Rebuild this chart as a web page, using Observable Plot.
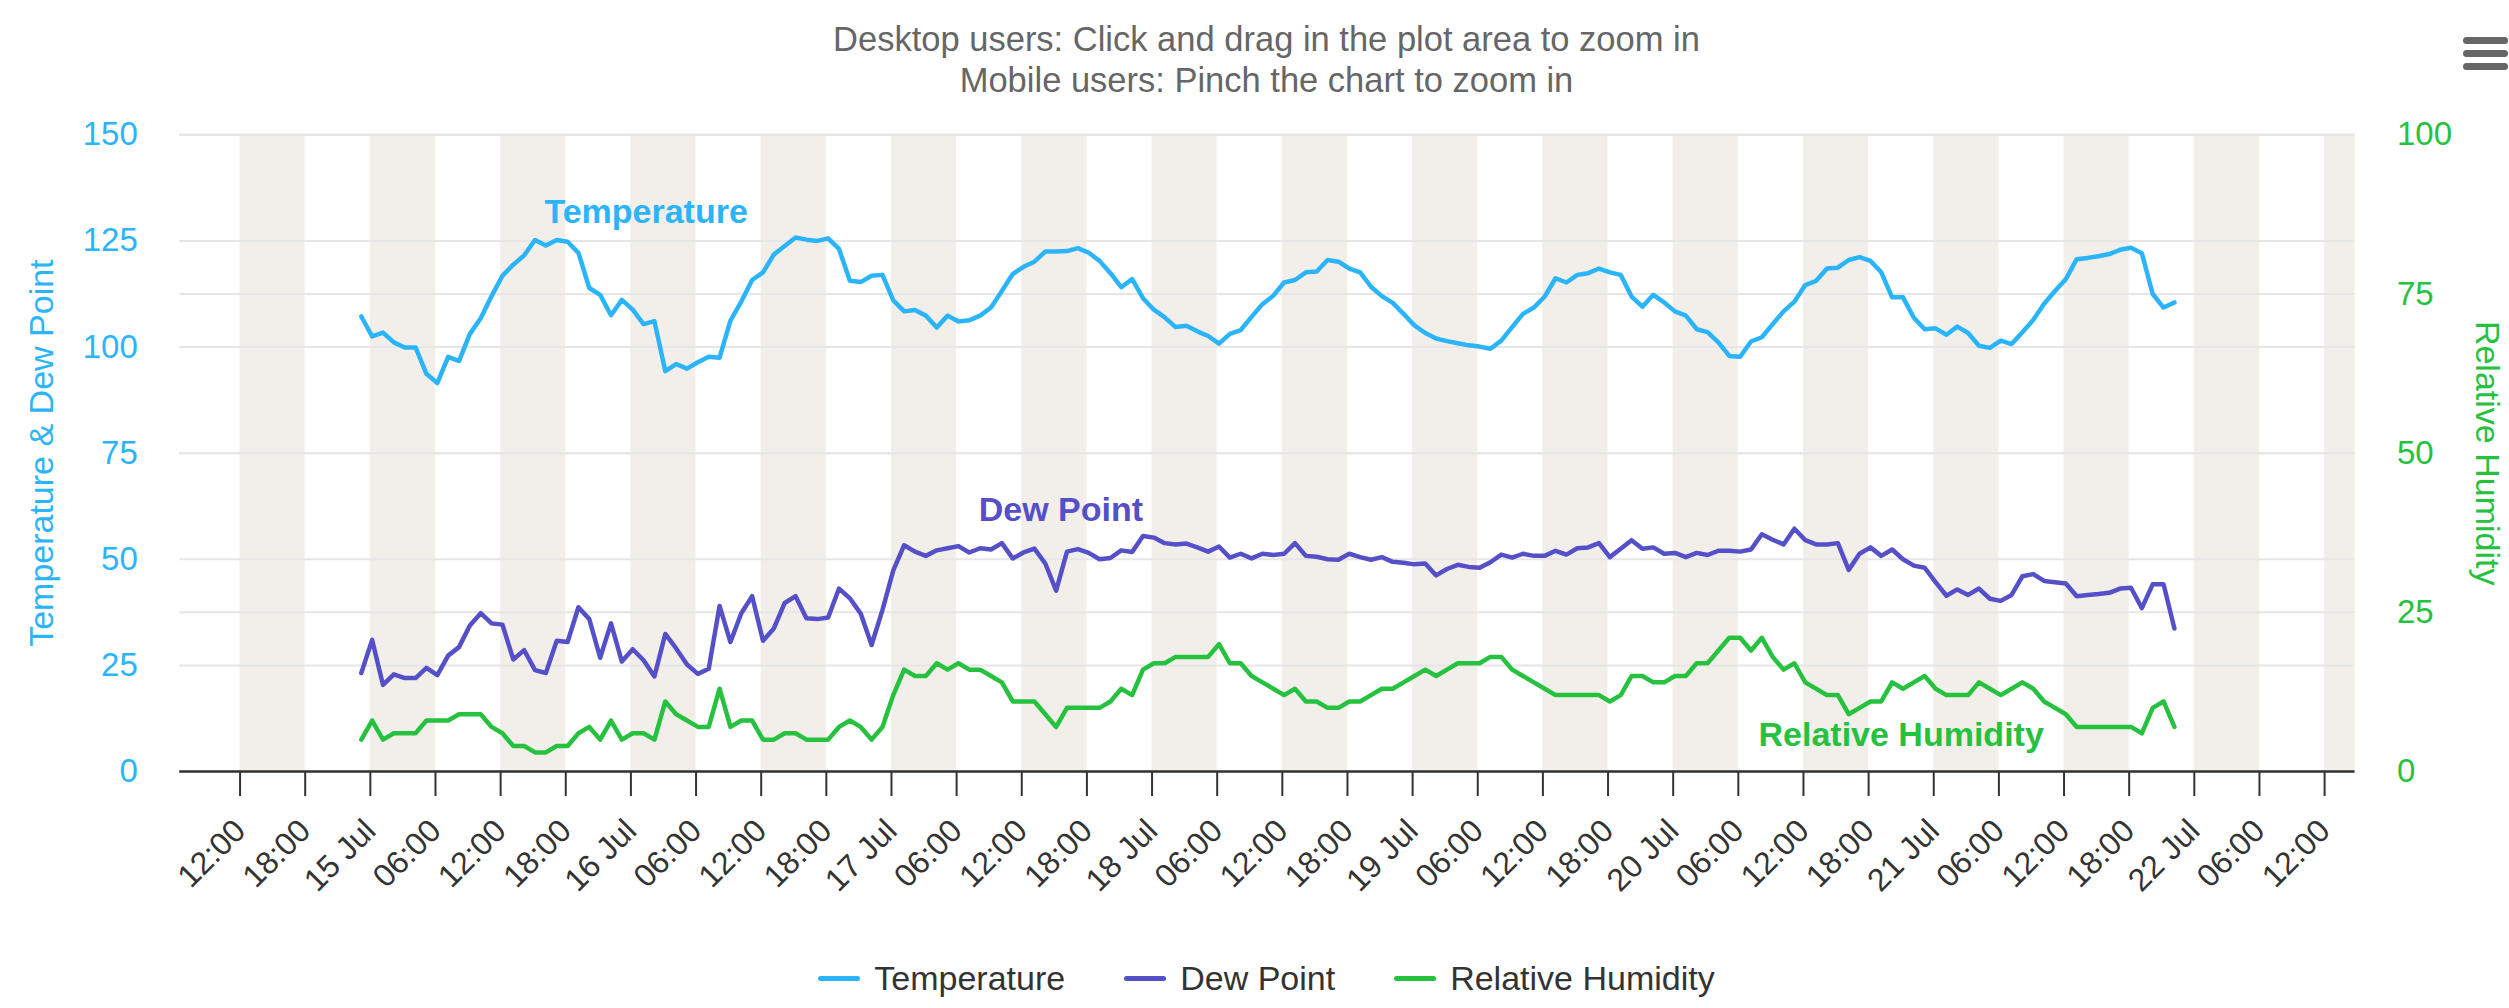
<!DOCTYPE html>
<html>
<head>
<meta charset="utf-8">
<script src="https://cdn.jsdelivr.net/npm/d3@7"></script>
<script src="https://cdn.jsdelivr.net/npm/@observablehq/plot@0.6"></script>
<style>
  html, body { margin: 0; padding: 0; background: #fff; }
  body { width: 2509px; height: 1008px; position: relative; overflow: hidden;
         font-family: "Liberation Sans", Arial, Helvetica, sans-serif; }
  #subtitle { position: absolute; left: 179px; width: 2175px; top: 19px; text-align: center;
              color: #666; font-size: 34.5px; line-height: 40.6px; }
  #chart { position: absolute; left: 0; top: 110px; }
  #legend { position: absolute; left: 179px; width: 2175px; top: 955px; height: 46px;
            display: flex; justify-content: center; align-items: center; gap: 59px;
            color: #333; font-size: 34px; }
  .item { display: flex; align-items: center; }
  .sym { width: 42px; height: 5px; border-radius: 3px; margin-right: 14px; }
  #menu { position: absolute; left: 2463px; top: 37px; width: 45px; }
  #menu div { height: 7px; border-radius: 4px; background: #666; margin-bottom: 6px; }
</style>
</head>
<body>
<div id="subtitle">Desktop users: Click and drag in the plot area to zoom in<br>Mobile users: Pinch the chart to zoom in</div>
<div id="menu"><div></div><div></div><div></div></div>
<div id="chart"></div>
<div id="legend"></div>
<script>
// ---------- data (hourly readings) ----------
const seriesStart = "2023-07-14T23:10:00Z";

const temperature = [
  107.2, 102.5, 103.4, 101.1, 99.9, 99.9, 93.7, 91.5, 97.7, 96.7,
  103.1, 106.8, 112.0, 116.8, 119.4, 121.6, 125.2, 123.9, 125.2, 124.8,
  122.2, 113.9, 112.3, 107.5, 111.1, 108.8, 105.4, 106.1, 94.3, 96.0,
  94.9, 96.4, 97.7, 97.5, 106.2, 110.7, 115.8, 117.6, 121.8, 123.8,
  125.8, 125.3, 125.0, 125.6, 123.1, 115.6, 115.3, 116.8, 117.0, 111.0,
  108.4, 108.7, 107.4, 104.6, 107.4, 106.0, 106.3, 107.4, 109.3, 113.2,
  117.2, 118.9, 120.1, 122.5, 122.5, 122.6, 123.3, 122.2, 120.3, 117.4,
  114.1, 116.0, 111.5, 108.8, 107.0, 104.7, 105.0, 103.7, 102.6, 100.8,
  103.1, 104.0, 107.1, 110.1, 112.1, 115.2, 115.8, 117.6, 117.8, 120.5,
  120.1, 118.5, 117.6, 114.2, 112.0, 110.4, 107.8, 105.1, 103.3, 102.0,
  101.4, 100.9, 100.4, 100.1, 99.6, 101.5, 104.7, 107.8, 109.3, 111.9,
  116.2, 115.2, 117.0, 117.4, 118.5, 117.6, 117.0, 111.9, 109.5, 112.3,
  110.5, 108.4, 107.4, 104.2, 103.5, 101.1, 97.9, 97.7, 101.3, 102.3,
  105.4, 108.4, 110.7, 114.6, 115.6, 118.5, 118.7, 120.5, 121.2, 120.3,
  117.6, 111.7, 111.7, 106.9, 104.2, 104.4, 102.9, 104.8, 103.3, 100.3,
  99.8, 101.5, 100.7, 103.5, 106.4, 110.2, 113.2, 116.0, 120.7, 121.0,
  121.4, 121.9, 122.9, 123.4, 122.1, 112.5, 109.3, 110.5
];

const dewPoint = [
  23.2, 31.0, 20.4, 22.9, 22.0, 22.0, 24.4, 22.7, 27.3, 29.3,
  34.4, 37.3, 34.9, 34.6, 26.4, 28.6, 23.9, 23.2, 30.8, 30.5,
  38.7, 35.9, 26.8, 34.9, 25.9, 28.8, 26.2, 22.4, 32.4, 29.0,
  25.2, 23.0, 24.2, 39.0, 30.5, 37.3, 41.3, 30.8, 33.7, 39.7,
  41.3, 36.1, 35.9, 36.3, 43.1, 40.8, 37.2, 29.8, 38.0, 47.4,
  53.3, 51.8, 50.8, 52.1, 52.6, 53.1, 51.6, 52.6, 52.3, 53.8,
  50.2, 51.6, 52.5, 49.0, 42.6, 51.8, 52.4, 51.5, 50.0, 50.3,
  52.1, 51.7, 55.5, 55.1, 53.8, 53.5, 53.7, 52.8, 51.8, 53.0,
  50.4, 51.3, 50.2, 51.3, 51.0, 51.3, 53.8, 50.8, 50.6, 50.0,
  49.9, 51.3, 50.5, 49.9, 50.5, 49.4, 49.2, 48.8, 49.0, 46.2,
  47.7, 48.7, 48.2, 48.0, 49.3, 51.1, 50.4, 51.3, 50.8, 50.8,
  52.0, 51.1, 52.6, 52.8, 53.8, 50.5, 52.5, 54.5, 52.5, 52.8,
  51.3, 51.5, 50.5, 51.5, 51.0, 52.0, 52.0, 51.8, 52.3, 55.9,
  54.6, 53.5, 57.2, 54.5, 53.5, 53.5, 53.8, 47.5, 51.3, 52.8,
  50.8, 52.3, 50.0, 48.5, 48.0, 44.6, 41.4, 42.9, 41.6, 43.1,
  40.7, 40.2, 41.6, 46.0, 46.5, 44.9, 44.6, 44.3, 41.3, 41.6,
  41.8, 42.1, 43.1, 43.3, 38.5, 44.1, 44.1, 33.7
];

const humidity = [
  5, 8, 5, 6, 6, 6, 8, 8, 8, 9,
  9, 9, 7, 6, 4, 4, 3, 3, 4, 4,
  6, 7, 5, 8, 5, 6, 6, 5, 11, 9,
  8, 7, 7, 13, 7, 8, 8, 5, 5, 6,
  6, 5, 5, 5, 7, 8, 7, 5, 7, 12,
  16, 15, 15, 17, 16, 17, 16, 16, 15, 14,
  11, 11, 11, 9, 7, 10, 10, 10, 10, 11,
  13, 12, 16, 17, 17, 18, 18, 18, 18, 20,
  17, 17, 15, 14, 13, 12, 13, 11, 11, 10,
  10, 11, 11, 12, 13, 13, 14, 15, 16, 15,
  16, 17, 17, 17, 18, 18, 16, 15, 14, 13,
  12, 12, 12, 12, 12, 11, 12, 15, 15, 14,
  14, 15, 15, 17, 17, 19, 21, 21, 19, 21,
  18, 16, 17, 14, 13, 12, 12, 9, 10, 11,
  11, 14, 13, 14, 15, 13, 12, 12, 12, 14,
  13, 12, 13, 14, 13, 11, 10, 9, 7, 7,
  7, 7, 7, 7, 6, 10, 11, 7
];

// ---------- axes / labels ----------
const seriesNames = ["Temperature", "Dew Point", "Relative Humidity"];
const seriesColors = ["#2cb4fa", "#5550c8", "#26c13e"];
const xDomain = ["2023-07-14T06:27:00Z", "2023-07-22T14:48:00Z"];
const leftTicks = [0, 25, 50, 75, 100, 125, 150];
const rightTicks = [0, 25, 50, 75, 100];
const rightMax = 100, leftMax = 150;
const xTickStart = "2023-07-14T12:00:00Z";
const xTickLabels = ["12:00", "18:00",
  "15 Jul", "06:00", "12:00", "18:00",
  "16 Jul", "06:00", "12:00", "18:00",
  "17 Jul", "06:00", "12:00", "18:00",
  "18 Jul", "06:00", "12:00", "18:00",
  "19 Jul", "06:00", "12:00", "18:00",
  "20 Jul", "06:00", "12:00", "18:00",
  "21 Jul", "06:00", "12:00", "18:00",
  "22 Jul", "06:00", "12:00"];
const bandStarts = [
  "2023-07-14T12:00:00Z", "2023-07-15T00:00:00Z", "2023-07-15T12:00:00Z",
  "2023-07-16T00:00:00Z", "2023-07-16T12:00:00Z", "2023-07-17T00:00:00Z",
  "2023-07-17T12:00:00Z", "2023-07-18T00:00:00Z", "2023-07-18T12:00:00Z",
  "2023-07-19T00:00:00Z", "2023-07-19T12:00:00Z", "2023-07-20T00:00:00Z",
  "2023-07-20T12:00:00Z", "2023-07-21T00:00:00Z", "2023-07-21T12:00:00Z",
  "2023-07-22T00:00:00Z", "2023-07-22T12:00:00Z"];
const bandHours = 6;
// in-chart series labels: [time, value on own axis]
const labelTimes = ["2023-07-16T01:24:00Z", "2023-07-17T15:36:00Z", "2023-07-20T21:00:00Z"];
const labelValues = [131.9, 61.5, 5.7];

// ---------- build tables ----------
const H = 3600e3;
const t0 = +new Date(seriesStart);
const rhK = leftMax / rightMax;
const rows = temperature.map((t, i) => ({
  time: new Date(t0 + i * H), temperature: t, dewPoint: dewPoint[i], humidity: humidity[i]
}));
const xTicks = xTickLabels.map((_, i) => new Date(+new Date(xTickStart) + i * 6 * H));
const tickLabelOf = new Map(xTicks.map((d, i) => [+d, xTickLabels[i]]));
const bands = bandStarts.map(s => ({x1: new Date(s), x2: new Date(+new Date(s) + bandHours * H)}));
const seriesLabels = seriesNames.map((name, i) => ({
  name, time: new Date(labelTimes[i]), y: i === 2 ? labelValues[i] * rhK : labelValues[i], color: seriesColors[i]
}));

const font = '"Liberation Sans", Arial, Helvetica, sans-serif';
const W = 2509, SVGH = 830;
const mL = 179.3, mR = 154.5, mT = 24.3, mB = 169;
const lw = 4.5;

const chart = Plot.plot({
  width: W, height: SVGH,
  marginLeft: mL, marginRight: mR, marginTop: mT, marginBottom: mB,
  x: {type: "utc", domain: xDomain.map(d => new Date(d)), axis: null},
  y: {domain: [0, leftMax], axis: null},
  style: {fontFamily: font, background: "transparent", overflow: "visible"},
  marks: [
    Plot.rect(bands, {x1: "x1", x2: "x2", y1: () => 0, y2: () => leftMax, fill: "#f2efea", clip: true}),
    Plot.ruleY(leftTicks, {stroke: "#e6e6e6", strokeWidth: 2}),
    Plot.ruleY(rightTicks.map(v => v * rhK), {stroke: "#e6e6e6", strokeWidth: 2}),
    Plot.lineY(rows, {x: "time", y: "temperature", stroke: seriesColors[0], strokeWidth: lw, strokeLinejoin: "round", strokeLinecap: "round"}),
    Plot.lineY(rows, {x: "time", y: "dewPoint", stroke: seriesColors[1], strokeWidth: lw, strokeLinejoin: "round", strokeLinecap: "round"}),
    Plot.lineY(rows, {x: "time", y: d => d.humidity * rhK, stroke: seriesColors[2], strokeWidth: lw, strokeLinejoin: "round", strokeLinecap: "round"}),
    Plot.ruleY([0], {stroke: "#333", strokeWidth: 2.5}),
    Plot.axisX(xTicks, {anchor: "bottom", tickSize: 25, tickPadding: 29, tickRotate: -45,
      tickFormat: d => tickLabelOf.get(+d), fontSize: 32, color: "#333", stroke: "#333", strokeWidth: 2}),
    Plot.axisY(leftTicks, {anchor: "left", tickSize: 0, tickPadding: 42, fontSize: 33,
      color: seriesColors[0], fill: seriesColors[0]}),
    Plot.axisY(rightTicks.map(v => v * rhK), {anchor: "right", tickSize: 0, tickPadding: 42, fontSize: 33,
      tickFormat: d => String(Math.round(d / rhK)), color: seriesColors[2], fill: seriesColors[2]}),
    Plot.text(["Temperature & Dew Point"], {frameAnchor: "left", dx: 42 - mL, rotate: -90,
      textAnchor: "middle", lineAnchor: "middle", fill: seriesColors[0], fontSize: 34}),
    Plot.text(["Relative Humidity"], {frameAnchor: "right", dx: 2486.7 - (W - mR), rotate: 90,
      textAnchor: "middle", lineAnchor: "middle", fill: seriesColors[2], fontSize: 34}),
    Plot.text(seriesLabels, {x: "time", y: "y", text: "name", fill: "color", fontSize: 34,
      fontWeight: "bold", textAnchor: "middle", lineAnchor: "middle"})
  ]
});
document.getElementById("chart").appendChild(chart);

const legend = document.getElementById("legend");
seriesNames.forEach((name, i) => {
  const item = document.createElement("div");
  item.className = "item";
  const sym = document.createElement("div");
  sym.className = "sym";
  sym.style.background = seriesColors[i];
  const label = document.createElement("span");
  label.textContent = name;
  item.appendChild(sym);
  item.appendChild(label);
  legend.appendChild(item);
});
</script>
</body>
</html>
